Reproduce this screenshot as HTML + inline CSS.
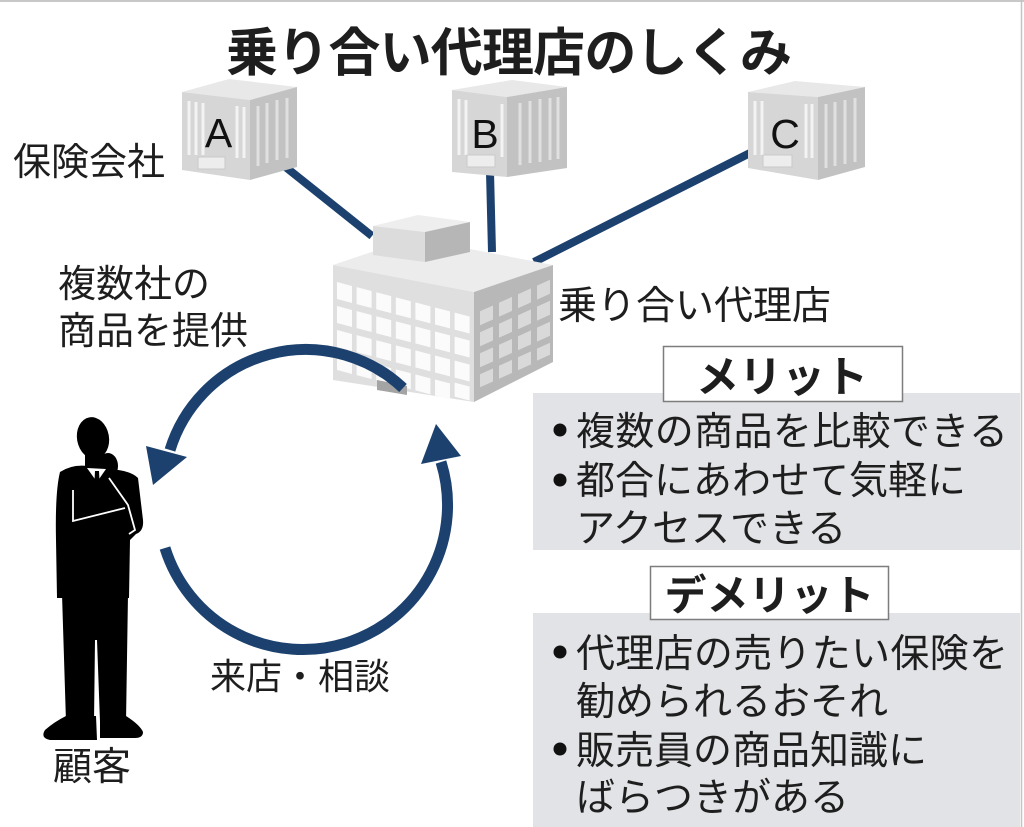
<!DOCTYPE html>
<html><head><meta charset="utf-8">
<style>
html,body{margin:0;padding:0;background:#fff;}
svg{display:block;}
text{font-family:"Liberation Sans","Noto Sans CJK JP",sans-serif;fill:#1e1e1e;}
.lat{font-family:"Liberation Sans",sans-serif;fill:#111;}
</style></head><body>
<svg width="1024" height="827" viewBox="0 0 1024 827" xmlns="http://www.w3.org/2000/svg">
<rect width="1024" height="827" fill="#fff"/>
<line x1="0" y1="1" x2="1024" y2="1" stroke="#c8c8c8" stroke-width="2"/>
<line x1="1021.5" y1="0" x2="1021.5" y2="827" stroke="#c4c4c4" stroke-width="1.5"/>

<!-- Title -->
<text x="226" y="71" font-size="52" font-weight="700" textLength="566" lengthAdjust="spacing">乗り合い代理店のしくみ</text>

<!-- connector lines -->
<g stroke="#1c416e" stroke-width="8" stroke-linecap="butt">
<line x1="283" y1="165" x2="372" y2="236"/>
<line x1="490" y1="172" x2="492" y2="252"/>
<line x1="754" y1="151" x2="534" y2="262"/>
</g>

<!-- Building A -->
<g>
<polygon points="182,92 229,79 297,87 250,100" fill="#e8e8e8"/>
<polygon points="182,92 250,100 250,180 182,170" fill="#d6d6d6"/>
<polygon points="250,100 297,87 297,167 250,180" fill="#c2c2c2"/>
<g stroke="#f3f3f3" stroke-width="3">
<line x1="189" y1="101" x2="189" y2="155"/><line x1="196" y1="102" x2="196" y2="155"/><line x1="203" y1="103" x2="203" y2="155"/>
<line x1="237" y1="106" x2="237" y2="158"/><line x1="244" y1="107" x2="244" y2="158"/>
</g>
<g stroke="#e0e0e0" stroke-width="3">
<line x1="258" y1="106" x2="258" y2="166"/><line x1="267" y1="103" x2="267" y2="163"/><line x1="277" y1="100" x2="277" y2="160"/><line x1="287" y1="98" x2="287" y2="158"/>
</g>
<rect x="198" y="157" width="27" height="12" fill="#ededed" stroke="#c9c9c9" stroke-width="1"/>
<text class="lat" x="218.5" y="147" font-size="41" text-anchor="middle">A</text>
</g>

<!-- Building B -->
<g>
<polygon points="452,90 512,80 567,87 507,97" fill="#e8e8e8"/>
<polygon points="452,90 507,97 507,177 452,172" fill="#d6d6d6"/>
<polygon points="507,97 567,87 567,168 507,177" fill="#c2c2c2"/>
<g stroke="#f3f3f3" stroke-width="3">
<line x1="459" y1="99" x2="459" y2="155"/><line x1="466" y1="100" x2="466" y2="155"/>
<line x1="502" y1="104" x2="502" y2="157"/>
</g>
<g stroke="#e0e0e0" stroke-width="3">
<line x1="520" y1="103" x2="520" y2="165"/><line x1="530" y1="101" x2="530" y2="163"/><line x1="540" y1="99" x2="540" y2="162"/><line x1="550" y1="98" x2="550" y2="160"/><line x1="558" y1="97" x2="558" y2="159"/>
</g>
<rect x="467" y="155" width="28" height="12" fill="#ededed" stroke="#c9c9c9" stroke-width="1"/>
<text class="lat" x="485" y="148" font-size="41" text-anchor="middle">B</text>
</g>

<!-- Building C -->
<g>
<polygon points="748,92 795,81 865,87 818,97" fill="#e8e8e8"/>
<polygon points="748,92 818,97 818,180 748,168" fill="#d6d6d6"/>
<polygon points="818,97 865,87 865,167 818,180" fill="#c2c2c2"/>
<g stroke="#f3f3f3" stroke-width="3">
<line x1="755" y1="101" x2="755" y2="155"/><line x1="762" y1="101" x2="762" y2="155"/>
<line x1="806" y1="104" x2="806" y2="158"/><line x1="812" y1="104" x2="812" y2="158"/>
</g>
<g stroke="#e0e0e0" stroke-width="3">
<line x1="826" y1="104" x2="826" y2="168"/><line x1="835" y1="102" x2="835" y2="166"/><line x1="845" y1="100" x2="845" y2="164"/><line x1="855" y1="98" x2="855" y2="162"/>
</g>
<rect x="763" y="155" width="29" height="12" fill="#ededed" stroke="#c9c9c9" stroke-width="1"/>
<text class="lat" x="785" y="148" font-size="41" text-anchor="middle">C</text>
</g>

<!-- Main building -->
<g>
<polygon points="333,265 413,238 553,265 474,292" fill="#ececec"/>
<polygon points="373,226 418,215 470,222 425,232" fill="#eeeeee"/>
<polygon points="373,226 425,232 425,262 373,255" fill="#dcdcdc"/>
<polygon points="425,232 470,222 470,252 425,262" fill="#b6b6b6"/>
<polygon points="333,265 474,292 474,402 333,380" fill="#dfdfdf"/>
<polygon points="474,292 553,265 553,362 474,402" fill="#b8b8b8"/>
<g transform="matrix(1,0.26,0,1,333,266)" fill="#fbfbfb">
<rect x="4" y="15" width="15" height="17"/><rect x="23.6" y="15" width="15" height="17"/><rect x="43.2" y="15" width="15" height="17"/><rect x="62.8" y="15" width="15" height="17"/><rect x="82.4" y="15" width="15" height="17"/><rect x="102" y="15" width="15" height="17"/><rect x="121.6" y="15" width="15" height="17"/>
<rect x="4" y="39" width="15" height="17"/><rect x="23.6" y="39" width="15" height="17"/><rect x="43.2" y="39" width="15" height="17"/><rect x="62.8" y="39" width="15" height="17"/><rect x="82.4" y="39" width="15" height="17"/><rect x="102" y="39" width="15" height="17"/><rect x="121.6" y="39" width="15" height="17"/>
<rect x="4" y="63" width="15" height="17"/><rect x="23.6" y="63" width="15" height="17"/><rect x="43.2" y="63" width="15" height="17"/><rect x="62.8" y="63" width="15" height="17"/><rect x="82.4" y="63" width="15" height="17"/><rect x="102" y="63" width="15" height="17"/><rect x="121.6" y="63" width="15" height="17"/>
<rect x="4" y="87" width="15" height="16"/><rect x="23.6" y="87" width="15" height="16"/><rect x="43.2" y="87" width="15" height="16"/><rect x="62.8" y="87" width="15" height="16"/><rect x="82.4" y="87" width="15" height="16"/><rect x="102" y="87" width="15" height="16"/><rect x="121.6" y="85" width="15" height="14"/>
</g>
<g transform="matrix(1,-0.45,0,1,474,300)" fill="#d9d9d9">
<rect x="6" y="14" width="13" height="14"/><rect x="25" y="14" width="13" height="14"/><rect x="44" y="14" width="13" height="14"/><rect x="63" y="14" width="13" height="14"/>
<rect x="6" y="35" width="13" height="14"/><rect x="25" y="35" width="13" height="14"/><rect x="44" y="35" width="13" height="14"/><rect x="63" y="35" width="13" height="14"/>
<rect x="6" y="56" width="13" height="14"/><rect x="25" y="56" width="13" height="14"/><rect x="44" y="56" width="13" height="14"/><rect x="63" y="56" width="13" height="14"/>
<rect x="6" y="77" width="13" height="13"/><rect x="25" y="77" width="13" height="13"/><rect x="44" y="77" width="13" height="13"/><rect x="63" y="77" width="13" height="12"/>
</g>
<polygon points="377,380 407,386 407,395 377,390" fill="#a4a4a4"/>
</g>

<!-- Labels -->
<text x="13" y="175" font-size="38">保険会社</text>
<text x="558" y="319" font-size="39">乗り合い代理店</text>
<text x="58" y="297" font-size="38">複数社の</text>
<text x="58" y="344" font-size="38">商品を提供</text>

<!-- Cycle arrows -->
<g fill="none" stroke="#1c416e" stroke-width="11">
<path d="M403,388 A142,142 0 0 0 170,450"/>
<path d="M165,548 A142,142 0 0 0 441,462"/>
</g>
<polygon points="146,446 187,457 153,485" fill="#1c416e"/>
<polygon points="421,464 461,456 436,424" fill="#1c416e"/>

<text x="210" y="689" font-size="36">来店・相談</text>

<!-- Person -->
<g fill="#000">
<ellipse cx="93" cy="438" rx="16" ry="21" transform="rotate(-10 93 438)"/>
<rect x="85" y="450" width="16" height="20"/>
<path d="M60,472 Q72,464 88,466 L108,469 Q130,470 138,478 L143,520 Q144,531 136,534 L130,540 L129,598 L57,598 L56,540 Q55,492 60,472 Z"/>
<path d="M62,594 L128,594 L126,722 L100,722 L97,640 L95,640 L94,722 L66,722 Z"/>
<path d="M66,716 L96,716 L97,740 L50,740 Q40,738 45,730 Q54,722 66,716 Z"/>
<path d="M100,716 L126,716 Q140,725 143,732 Q143,738 135,738 L100,738 Z"/>
<ellipse cx="108" cy="466" rx="10" ry="13"/>
</g>
<polygon points="87,468 106,469 97,482" fill="#fff"/>
<polygon points="95,471 99,471 100,490 97,494 94,490" fill="#000"/>
<g fill="none" stroke="#fff" stroke-width="1.8">
<polyline points="73,490 73,521 125,508"/>
<polyline points="109,478 128,505 135,530 129,534"/>
</g>
<text x="53" y="780" font-size="39">顧客</text>

<!-- Merit panel -->
<rect x="533" y="393" width="487" height="157" fill="#e2e3e6"/>
<rect x="663.5" y="346.5" width="239" height="55" fill="#fff" stroke="#7d7d7d" stroke-width="1.5"/>
<text x="782" y="392" font-size="43" font-weight="700" text-anchor="middle">メリット</text>
<circle cx="560" cy="430" r="6.5" fill="#111"/>
<text x="576" y="445" font-size="39" textLength="432" lengthAdjust="spacing">複数の商品を比較できる</text>
<circle cx="560" cy="480" r="6.5" fill="#111"/>
<text x="576" y="494" font-size="39">都合にあわせて気軽に</text>
<text x="576" y="542" font-size="39">アクセスできる</text>

<!-- Demerit panel -->
<rect x="533" y="613" width="487" height="214" fill="#e2e3e6"/>
<rect x="650.5" y="566.5" width="238" height="53" fill="#fff" stroke="#7d7d7d" stroke-width="1.5"/>
<text x="769.5" y="610" font-size="42" font-weight="700" text-anchor="middle">デメリット</text>
<circle cx="560" cy="652" r="6.5" fill="#111"/>
<text x="576" y="667" font-size="39" textLength="432" lengthAdjust="spacing">代理店の売りたい保険を</text>
<text x="576" y="715" font-size="39">勧められるおそれ</text>
<circle cx="560" cy="749" r="6.5" fill="#111"/>
<text x="576" y="764" font-size="39">販売員の商品知識に</text>
<text x="576" y="811" font-size="39">ばらつきがある</text>
</svg>
</body></html>
